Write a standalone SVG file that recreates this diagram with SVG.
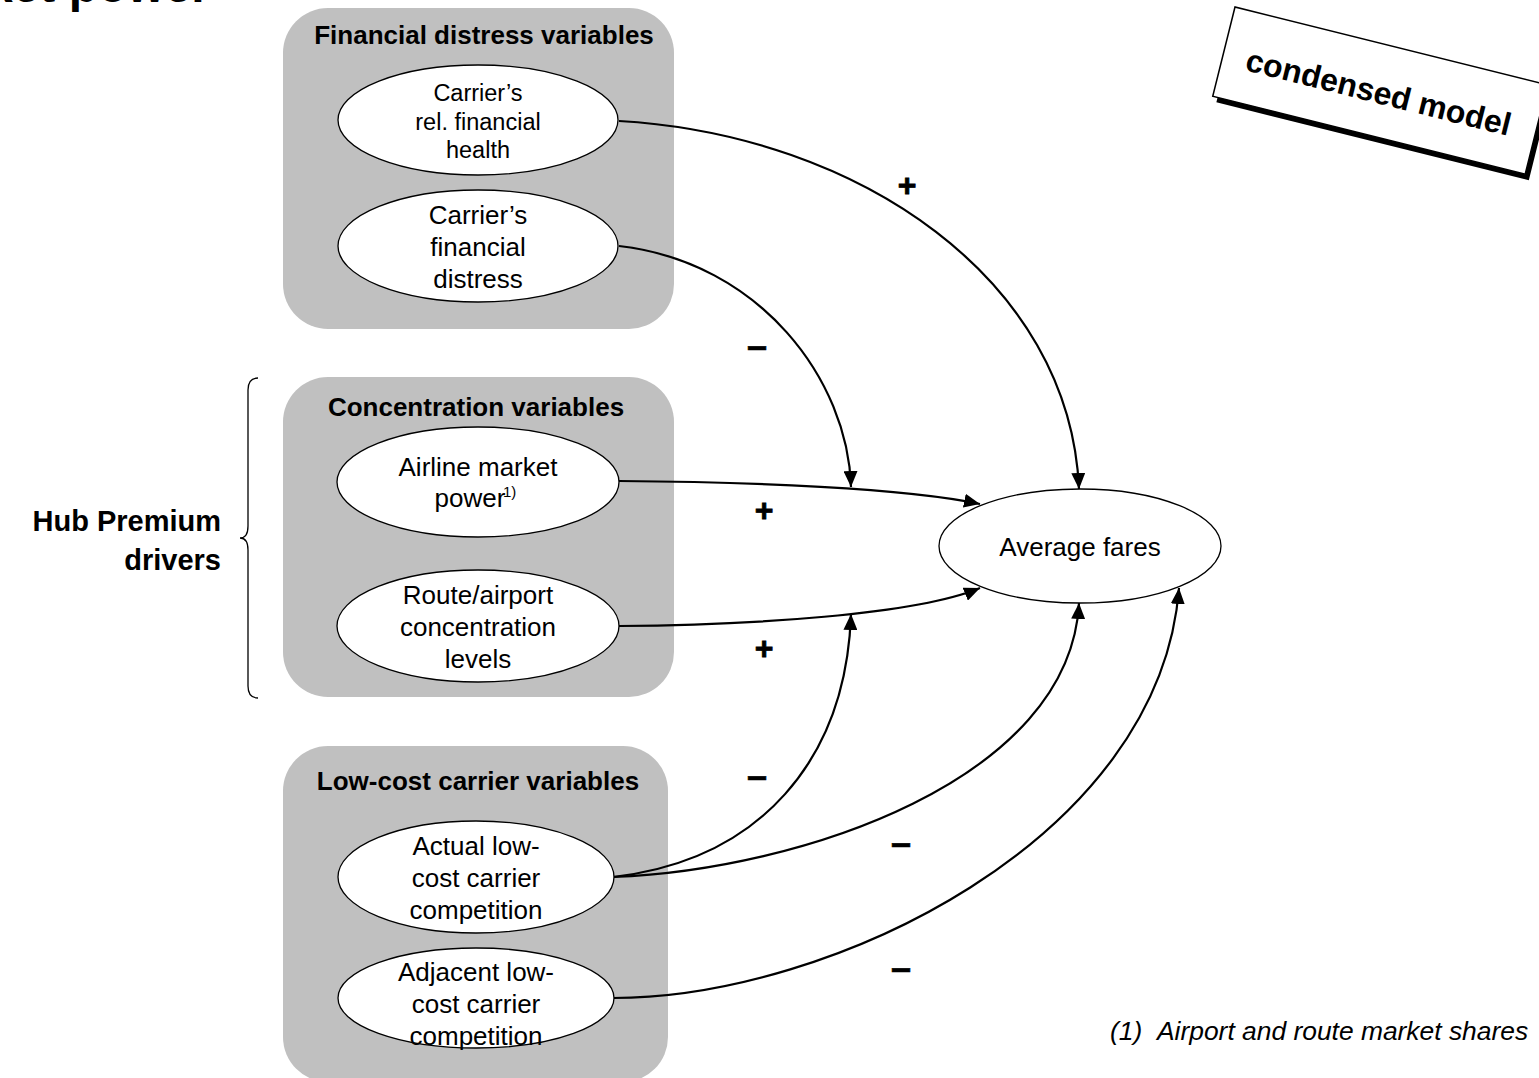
<svg xmlns="http://www.w3.org/2000/svg" width="1539" height="1078" viewBox="0 0 1539 1078">
<style>
text{font-family:"Liberation Sans",Arial,sans-serif;fill:#000}
.grp{fill:#c0c0c0}
.title{font-weight:bold;font-size:26px;text-anchor:middle}
.node{fill:#fff;stroke:#000;stroke-width:1.3}
.lbl{font-size:26px;text-anchor:middle}
.plus{font-weight:bold;font-size:32px;text-anchor:middle;stroke:#000;stroke-width:0.8}
.minus{font-weight:bold;font-size:36px;text-anchor:middle;stroke:#000;stroke-width:0.6}
.conn{fill:none;stroke:#000;stroke-width:2.2}
.foot{font-style:italic;font-size:26.4px}
</style>
<defs>
<marker id="ah" markerUnits="userSpaceOnUse" markerWidth="16" markerHeight="14" viewBox="0 0 16 14" refX="16" refY="7" orient="auto">
<path d="M0,0 L16,7 L0,14 Z" fill="#000"/>
</marker>
</defs>
<rect width="1539" height="1078" fill="#fff"/>
<text x="210" y="2" style="font-weight:bold;font-size:48px;text-anchor:end">Market power</text>
<g id="group-financial">
<rect class="grp" x="283" y="8" width="391" height="321" rx="45"/>
<text class="title" x="484" y="44">Financial distress variables</text>
</g>
<g id="group-concentration">
<rect class="grp" x="283" y="377" width="391" height="320" rx="45"/>
<text class="title" x="476" y="416">Concentration variables</text>
</g>
<g id="group-lowcost">
<rect class="grp" x="283" y="746" width="385" height="336" rx="45"/>
<text class="title" x="478" y="790">Low-cost carrier variables</text>
</g>
<g id="connectors">
<path class="conn" d="M619,121 C860,135 1070,280 1079,489" marker-end="url(#ah)"/>
<path class="conn" d="M619,246 C760,262 848,380 851,487" marker-end="url(#ah)"/>
<path class="conn" d="M619,481 C750,482 905,488 980,504" marker-end="url(#ah)"/>
<path class="conn" d="M619,626 C750,625 915,615 980,588" marker-end="url(#ah)"/>
<path class="conn" d="M613,877 C760,860 846,760 851,614" marker-end="url(#ah)"/>
<path class="conn" d="M613,877 C800,870 1070,780 1079,603" marker-end="url(#ah)"/>
<path class="conn" d="M613,998 C830,998 1160,840 1179,588" marker-end="url(#ah)"/>
<text class="plus" x="907" y="196">+</text>
<text class="minus" x="757" y="358">–</text>
<text class="plus" x="764" y="521">+</text>
<text class="plus" x="764" y="659">+</text>
<text class="minus" x="757" y="788">–</text>
<text class="minus" x="901" y="855">–</text>
<text class="minus" x="901" y="980">–</text>
</g>
<g id="node-rel-health">
<ellipse class="node" cx="478" cy="120" rx="140" ry="55"/>
<text class="lbl" style="font-size:23.5px"><tspan x="478" y="101">Carrier’s</tspan><tspan x="478" y="130">rel. financial</tspan><tspan x="478" y="158">health</tspan></text>
</g>
<g id="node-distress">
<ellipse class="node" cx="478" cy="246" rx="140" ry="56"/>
<text class="lbl"><tspan x="478" y="224">Carrier’s</tspan><tspan x="478" y="256">financial</tspan><tspan x="478" y="288">distress</tspan></text>
</g>
<g id="node-market-power">
<ellipse class="node" cx="478" cy="482" rx="141" ry="55"/>
<text class="lbl"><tspan x="478" y="476">Airline market</tspan><tspan x="470" y="507">power</tspan></text>
<text x="503" y="497" style="font-size:15px">1)</text>
</g>
<g id="node-route">
<ellipse class="node" cx="478" cy="626" rx="141" ry="56"/>
<text class="lbl"><tspan x="478" y="604">Route/airport</tspan><tspan x="478" y="636">concentration</tspan><tspan x="478" y="668">levels</tspan></text>
</g>
<g id="node-actual-lcc">
<ellipse class="node" cx="476" cy="877" rx="138" ry="56"/>
<text class="lbl"><tspan x="476" y="855">Actual low-</tspan><tspan x="476" y="887">cost carrier</tspan><tspan x="476" y="919">competition</tspan></text>
</g>
<g id="node-adjacent-lcc">
<ellipse class="node" cx="476" cy="998" rx="138" ry="50"/>
<text class="lbl"><tspan x="476" y="981">Adjacent low-</tspan><tspan x="476" y="1013">cost carrier</tspan><tspan x="476" y="1045">competition</tspan></text>
</g>
<g id="node-average-fares">
<ellipse class="node" cx="1080" cy="546" rx="141" ry="57"/>
<text class="lbl" x="1080" y="556">Average fares</text>
</g>
<g id="hub-premium">
<path d="M258,378 Q248,378 248,390 L248,526 Q248,538 240,538 Q248,538 248,550 L248,686 Q248,698 258,698" fill="none" stroke="#000" stroke-width="1.3"/>
<text style="font-weight:bold;font-size:29px;text-anchor:end"><tspan x="221" y="531">Hub Premium</tspan><tspan x="221" y="570">drivers</tspan></text>
</g>
<g id="condensed-model" transform="rotate(14 1235 7)">
<rect x="1240" y="12" width="322" height="92" fill="#000"/>
<rect x="1235" y="7" width="322" height="92" fill="#fff" stroke="#000" stroke-width="1.5"/>
<text x="1395" y="66" style="font-weight:bold;font-size:32px;text-anchor:middle">condensed model</text>
</g>
<g id="footnote">
<text class="foot" x="1110" y="1040">(1)</text>
<text class="foot" x="1157" y="1040">Airport and route market shares</text>
</g>
</svg>
